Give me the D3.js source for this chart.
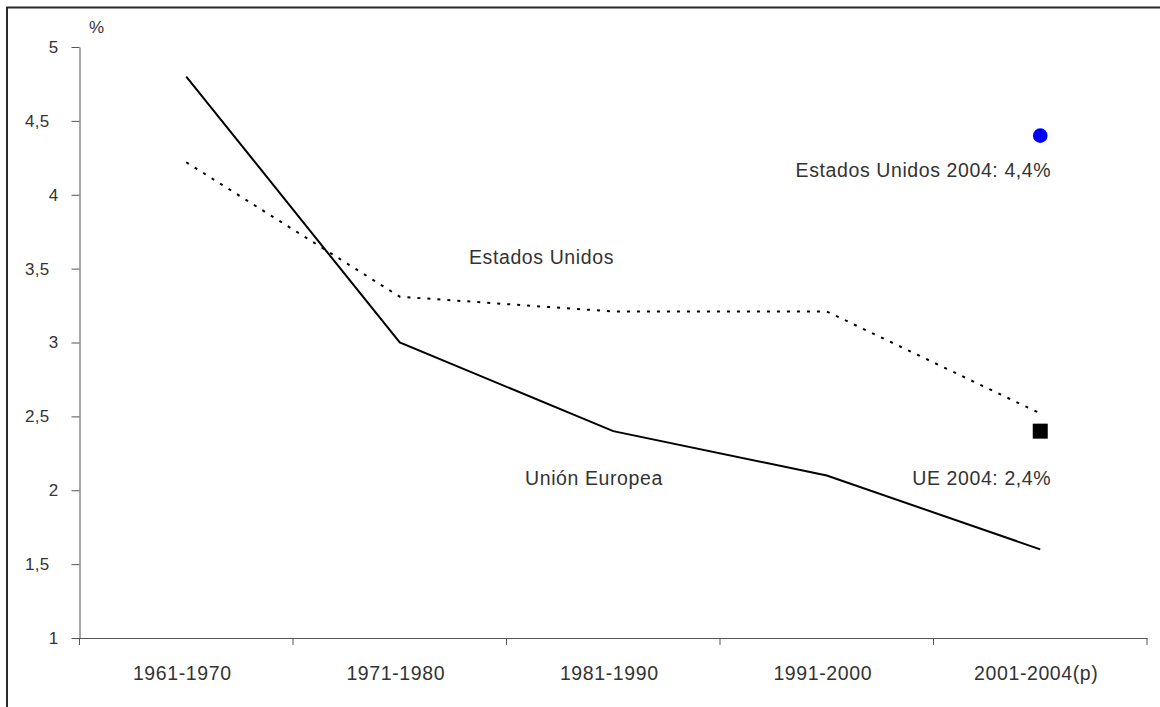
<!DOCTYPE html>
<html>
<head>
<meta charset="utf-8">
<script src="https://cdn.jsdelivr.net/npm/d3@7"></script>
<style>
  html, body { margin: 0; padding: 0; background: #fff; }
  svg { display: block; font-family: "Liberation Sans", Arial, Helvetica, sans-serif; }
</style>
</head>
<body>
<svg id="chart" width="1160" height="707"></svg>
<script>
// Decades on the horizontal axis
const periods = ["1961-1970", "1971-1980", "1981-1990", "1991-2000", "2001-2004(p)"];
// Average annual growth, %
const usValues = [4.22, 3.31, 3.21, 3.21, 2.52];
const euValues = [4.8, 3.0, 2.4, 2.1, 1.6];
// Single-year 2004 figures shown as markers
const us2004 = 4.4;
const eu2004 = 2.4;
const yTicks = [1, 1.5, 2, 2.5, 3, 3.5, 4, 4.5, 5];

const svg = d3.select("#chart");
const W = 1160, H = 707;
const margin = { left: 79.5, right: 13, top: 47, bottom: 69 };
const textColor = "#333";

// Outer frame
svg.append("rect")
  .attr("x", 7).attr("y", 7.5)
  .attr("width", W + 20).attr("height", H + 20)
  .attr("fill", "none").attr("stroke", "#2b2b2b").attr("stroke-width", 2);

const x = d3.scaleBand().domain(periods).range([margin.left, W - margin.right]).padding(0);
const y = d3.scaleLinear().domain([1, 5]).range([H - margin.bottom, margin.top]);
const fmt = d => String(d).replace(".", ",");

// Y axis
const yAxis = svg.append("g")
  .attr("transform", `translate(${margin.left},0)`)
  .call(d3.axisLeft(y).tickValues(yTicks).tickSize(8).tickSizeOuter(0).tickPadding(13).tickFormat(fmt));
yAxis.select(".domain").attr("stroke", "#555");
yAxis.selectAll(".tick line").attr("stroke", "#555");
yAxis.selectAll(".tick text")
  .attr("fill", textColor).style("font-size", "17px").style("letter-spacing", "0.3px")
  .attr("dx", d => Number.isInteger(d) ? 0 : -9);

svg.append("text")
  .attr("x", 89).attr("y", 33)
  .attr("fill", textColor).style("font-size", "17px")
  .text("%");

// X axis: labels centred in each band, ticks at band edges
const xAxis = svg.append("g")
  .attr("transform", `translate(0,${y(1)})`)
  .call(d3.axisBottom(x).tickSize(0).tickSizeOuter(0).tickPadding(28));
xAxis.select(".domain").attr("stroke", "#555");
xAxis.selectAll(".tick text")
  .attr("fill", textColor).style("font-size", "19.5px").style("letter-spacing", "0.6px").attr("dx", -4);

const edges = periods.map(p => x(p)).concat([x.range()[1]]);
xAxis.selectAll("line.edge").data(edges).join("line")
  .attr("class", "edge")
  .attr("x1", d => d).attr("x2", d => d)
  .attr("y1", 0).attr("y2", 7)
  .attr("stroke", "#555");

const cx = p => x(p) + x.bandwidth() / 2;
const line = d3.line().x((d, i) => cx(periods[i])).y(d => y(d));

// Estados Unidos (dotted)
svg.append("path")
  .datum(usValues)
  .attr("d", line)
  .attr("fill", "none").attr("stroke", "#000")
  .attr("stroke-width", 2).attr("stroke-dasharray", "3,7");

// Unión Europea (solid)
svg.append("path")
  .datum(euValues)
  .attr("d", line)
  .attr("fill", "none").attr("stroke", "#000")
  .attr("stroke-width", 2);

// 2004 markers
const last = periods[periods.length - 1];
svg.append("circle")
  .attr("cx", cx(last)).attr("cy", y(us2004)).attr("r", 7.3)
  .attr("fill", "#0000ff");
svg.append("rect")
  .attr("x", cx(last) - 7.5).attr("y", y(eu2004) - 7.5)
  .attr("width", 15).attr("height", 15)
  .attr("fill", "#000");

// Labels
const labelStyle = sel => sel.attr("fill", textColor).style("font-size", "19.5px").style("letter-spacing", "0.6px");
svg.append("text").attr("x", 469).attr("y", 264).text("Estados Unidos").call(labelStyle);
svg.append("text").attr("x", 525).attr("y", 485).text("Unión Europea").call(labelStyle);
svg.append("text").attr("x", cx(last) + 11).attr("y", y(us2004) + 41)
  .attr("text-anchor", "end").text("Estados Unidos 2004: 4,4%").call(labelStyle);
svg.append("text").attr("x", cx(last) + 11).attr("y", 485)
  .attr("text-anchor", "end").text("UE 2004: 2,4%").call(labelStyle);
</script>
</body>
</html>
